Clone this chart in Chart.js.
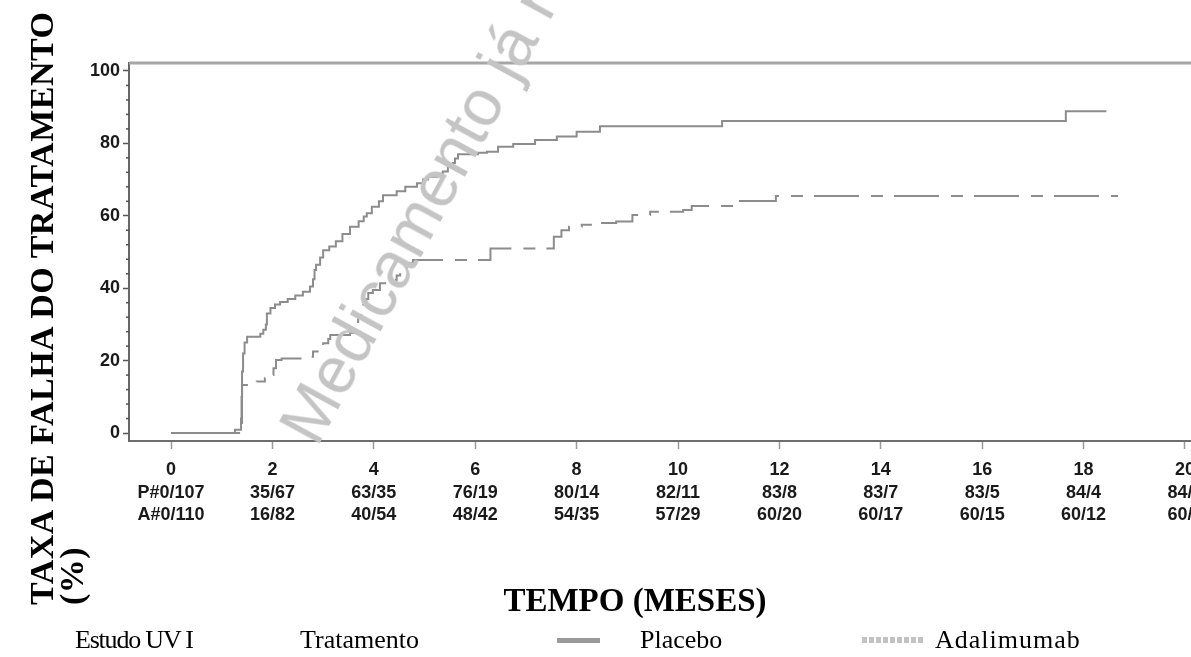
<!DOCTYPE html>
<html lang="pt">
<head>
<meta charset="utf-8">
<title>Taxa de falha do tratamento — Estudo UV I</title>
<script src="https://cdn.jsdelivr.net/npm/chart.js@4.4.1/dist/chart.umd.min.js"></script>
<style>
  html, body { margin: 0; padding: 0; width: 1191px; height: 657px; overflow: hidden; background: #fff; }
  #wrap { position: relative; width: 1191px; height: 657px; overflow: hidden; }
  #km { position: absolute; left: 0; top: 0; }
  .serif { position: absolute; white-space: nowrap; color: #000;
           font-family: "Liberation Serif", "Times New Roman", serif; }
  #ytitle { left: 27px; top: 605px; font-size: 34px; letter-spacing: 0.5px; font-weight: bold; line-height: 30px;
            transform-origin: 0 0; transform: rotate(-90deg); }
  #xtitle { left: 435px; width: 400px; top: 584px; text-align: center;
            font-size: 33px; font-weight: bold; line-height: 33px; }
  .leg { top: 627px; font-size: 26px; line-height: 26px; }
  #keySolid { position: absolute; left: 557px; top: 638px; width: 43px; height: 5px; background: #9a9a9a; }
  #keyDash { position: absolute; left: 862px; top: 637px; width: 63px; height: 6px;
             background: repeating-linear-gradient(90deg, #c2c2c2 0 5px, transparent 5px 7px); }
  #stamp { position: absolute; left: 317px; top: 392px; font-family: "Liberation Sans", Arial, sans-serif;
           font-size: 66px; line-height: 66px; color: #c4c4c4; white-space: nowrap;
           transform-origin: 0 56px; transform: rotate(-61.4deg); pointer-events: none; }
</style>
</head>
<body>
<div id="wrap">
  <canvas id="km" width="1300" height="657"></canvas>
  <div id="ytitle" class="serif">TAXA DE FALHA DO TRATAMENTO<br>(%)</div>
  <div id="xtitle" class="serif">TEMPO (MESES)</div>
  <div class="serif leg" style="left:75px; letter-spacing:-1.2px">Estudo UV I</div>
  <div class="serif leg" style="left:300px">Tratamento</div>
  <div id="keySolid"></div>
  <div class="serif leg" style="left:640px">Placebo</div>
  <div id="keyDash"></div>
  <div class="serif leg" style="left:935px; letter-spacing:1px">Adalimumab</div>
  <div id="stamp">Medicamento já não</div>
</div>
<script>
// Axis ticks and numbers at risk (events / at risk) under each month
const monthTicks = [0, 2, 4, 6, 8, 10, 12, 14, 16, 18, 20];
const placeboAtRisk = ['P#0/107', '35/67', '63/35', '76/19', '80/14', '82/11', '83/8', '83/7', '83/5', '84/4', '84/0'];
const adalimumabAtRisk = ['A#0/110', '16/82', '40/54', '48/42', '54/35', '57/29', '60/20', '60/17', '60/15', '60/12', '60/0'];
const rateTicks = [0, 20, 40, 60, 80, 100];
const minorStep = 4;

// Kaplan-Meier treatment failure curves: event time (months) and cumulative failure rate (%)
const placeboMonths = [0, 1.26, 1.38, 1.39, 1.40, 1.42, 1.45, 1.50, 1.76, 1.82, 1.87, 1.89, 1.96, 2.05, 2.15, 2.30, 2.45, 2.60,
  2.74, 2.80, 2.83, 2.86, 2.94, 3.00, 3.12, 3.25, 3.38, 3.53, 3.70, 3.80, 3.86, 3.96, 4.10, 4.18, 4.45, 4.62, 4.85, 4.97,
  5.07, 5.25, 5.36, 5.46, 5.56, 5.60, 5.66, 6.05, 6.23, 6.45, 6.75, 7.18, 7.61, 8.00, 8.46, 10.87, 17.65, 18.45];
const placeboRate = [0, 0.9, 4, 10, 17, 22, 25, 26.6, 27.4, 28.5, 30, 33, 34.5, 35.5, 36.2, 37, 38, 39,
  40.5, 42.5, 45, 46.5, 48.5, 50.5, 51.5, 53, 55, 57, 58.5, 59.8, 60.7, 62.5, 64, 65.7, 66.8, 68, 69, 70,
  70.8, 71.6, 72.2, 73.5, 74.6, 75.8, 77, 77.4, 77.7, 79.1, 79.8, 80.9, 81.9, 83.2, 84.7, 86.2, 88.9, 88.9];

const adalimumabMonths = [0, 1.40, 1.56, 1.69, 1.85, 1.95, 2.02, 2.07, 2.18, 2.74, 2.80, 2.94, 3.00, 3.10, 3.14, 3.53,
  3.63, 3.69, 3.75, 3.79, 3.85, 3.89, 3.98, 4.12, 4.38, 4.45, 4.52, 4.65, 4.77, 6.30, 7.55, 7.70, 7.85, 8.10, 8.45,
  8.78, 9.10, 9.45, 10.10, 10.27, 11.18, 11.93, 18.68];
const adalimumabRate = [0, 13.3, 13.7, 14.2, 15.1, 16, 17.9, 20.2, 20.6, 21.1, 22.5, 22.9, 24.8, 26, 27.1, 27.6,
  29, 32.1, 34, 35.4, 37, 38.7, 39.5, 41.4, 42.3, 43.5, 45, 46.9, 47.8, 51, 54.2, 56, 57, 57.5, 58,
  58.4, 60.2, 61.1, 61.6, 62.7, 64.1, 65.5, 65.5];

const toPoints = (xs, ys) => xs.map((x, i) => ({ x: x, y: ys[i] }));

// Upper frame line and the small minor ticks on the rate axis
const axisFrame = {
  id: 'axisFrame',
  beforeDatasetsDraw(chart) {
    const { ctx, chartArea, scales } = chart;
    const y = scales.y;
    ctx.save();
    ctx.strokeStyle = '#a6a6a6';
    ctx.lineWidth = 3;
    ctx.beginPath();
    ctx.moveTo(chartArea.left, chartArea.top);
    ctx.lineTo(chart.width, chartArea.top);
    ctx.stroke();
    ctx.strokeStyle = '#555';
    ctx.lineWidth = 1.5;
    for (let v = 0; v <= 100; v += minorStep) {
      if (rateTicks.includes(v)) continue;
      const py = y.getPixelForValue(v);
      ctx.beginPath();
      ctx.moveTo(chartArea.left - 3, py);
      ctx.lineTo(chartArea.left, py);
      ctx.stroke();
    }
    ctx.restore();
  }
};

Chart.defaults.font.family = '"Liberation Sans", Arial, sans-serif';

new Chart(document.getElementById('km'), {
  type: 'line',
  data: {
    datasets: [
      {
        label: 'Placebo',
        data: toPoints(placeboMonths, placeboRate),
        stepped: true,
        borderColor: '#8c8c8c',
        borderWidth: 2,
        pointRadius: 0,
        fill: false
      },
      {
        label: 'Adalimumab',
        data: toPoints(adalimumabMonths, adalimumabRate),
        stepped: true,
        borderColor: '#8c8c8c',
        borderWidth: 2,
        borderDash: [45, 12, 12, 11],
        pointRadius: 0,
        fill: false
      }
    ]
  },
  options: {
    responsive: false,
    animation: false,
    devicePixelRatio: 1,
    layout: { padding: { left: 0, top: 63, right: 39, bottom: 0 } },
    plugins: { legend: { display: false }, tooltip: { enabled: false } },
    scales: {
      x: {
        type: 'linear',
        min: -0.83,
        max: 21.5,
        afterBuildTicks: (s) => { s.ticks = monthTicks.map(v => ({ value: v })); },
        afterFit: (s) => { s.height = 216; },
        grid: { drawOnChartArea: false, tickLength: 8, tickColor: '#9a9a9a', tickWidth: 1.5 },
        border: { color: '#6e6e6e', width: 2 },
        ticks: {
          autoSkip: false,
          maxRotation: 0,
          minRotation: 0,
          padding: 10,
          color: '#1a1a1a',
          font: { size: 18, weight: 'bold', lineHeight: 1.25 },
          callback: (v) => {
            const i = monthTicks.indexOf(v);
            return [String(monthTicks[i]), placeboAtRisk[i], adalimumabAtRisk[i]];
          }
        }
      },
      y: {
        type: 'linear',
        min: -2.2,
        max: 102.2,
        afterBuildTicks: (s) => { s.ticks = rateTicks.map(v => ({ value: v })); },
        afterFit: (s) => { s.width = 129; },
        grid: { drawOnChartArea: false, tickLength: 6, tickColor: '#555', tickWidth: 1.5 },
        border: { color: '#666', width: 2 },
        ticks: {
          padding: 3,
          color: '#1a1a1a',
          font: { size: 18, weight: 'bold' },
          callback: (v) => String(v)
        }
      }
    }
  },
  plugins: [axisFrame]
});
</script>
</body>
</html>
